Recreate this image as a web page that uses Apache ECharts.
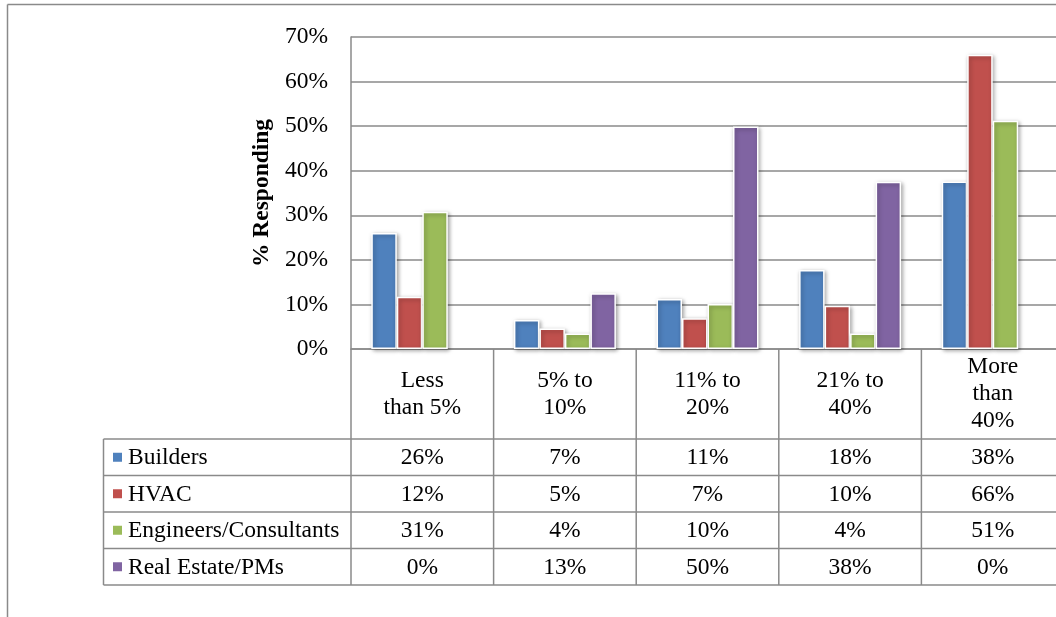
<!DOCTYPE html>
<html>
<head>
<meta charset="utf-8">
<script src="https://cdn.jsdelivr.net/npm/echarts@6/dist/echarts.min.js"></script>
<style>
  html, body { margin: 0; padding: 0; background: #fff; }
  #chart { width: 1056px; height: 617px; }
</style>
</head>
<body>
<div id="chart"></div>
<script>
var categories = ['Less\nthan 5%', '5% to\n10%', '11% to\n20%', '21% to\n40%', 'More\nthan\n40%'];
var seriesNames = ['Builders', 'HVAC', 'Engineers/Consultants', 'Real Estate/PMs'];
var builders = [26.0, 6.5, 11.2, 17.7, 37.6];
var hvac = [11.7, 4.6, 6.9, 9.7, 66.0];
var engineers = [30.8, 3.5, 10.1, 3.5, 51.2];
var realEstate = [0, 12.5, 49.9, 37.5, 0];
var yTicks = [0, 10, 20, 30, 40, 50, 60, 70];

var colors = ['#4F81BD', '#C0504D', '#9BBB59', '#8064A2'];
var font = '"Liberation Serif", "Times New Roman", serif';
var fontSize = 23.5;
var lineColor = '#8a8a8a';

var chart = echarts.init(document.getElementById('chart'));

var allData = [builders, hvac, engineers, realEstate];

var option = {
  animation: false,
  color: colors,
  // plot runs a little past the right edge, like the original cut-off chart
  grid: { left: 351, top: 37, width: 713, bottom: 268, outerBoundsMode: 'none', containLabel: false },
  xAxis: {
    type: 'category',
    data: categories,
    axisLine: { lineStyle: { color: lineColor, width: 1.5 } },
    axisTick: { show: false },
    axisLabel: {
      interval: 0,
      margin: 45,
      verticalAlign: 'middle',
      lineHeight: 27,
      fontFamily: font,
      fontSize: fontSize,
      color: '#000'
    }
  },
  yAxis: {
    type: 'value',
    min: yTicks[0],
    max: yTicks[yTicks.length - 1],
    interval: 10,
    name: '% Responding',
    nameLocation: 'middle',
    nameGap: 74,
    nameRotate: 90,
    nameTextStyle: { fontFamily: font, fontSize: fontSize, fontWeight: 'bold', color: '#000' },
    axisLine: { show: true, lineStyle: { color: lineColor, width: 1.5 } },
    axisTick: { show: false },
    splitLine: { lineStyle: { color: lineColor, width: 1.5 } },
    axisLabel: {
      margin: 23,
      fontFamily: font,
      fontSize: fontSize,
      color: '#000',
      formatter: '{value}%'
    }
  },
  series: seriesNames.map(function(name, i) {
    return {
      name: name,
      type: 'bar',
      data: allData[i].map(function(v) {
        // empty bars draw nothing (no shadow sliver)
        return v === 0 ? { value: 0, itemStyle: { opacity: 0 } } : v;
      }),
      barWidth: 25.5,
      barGap: '0%',
      itemStyle: {
        color: colors[i],
        borderColor: '#fff',
        borderWidth: 1.5,
        shadowBlur: 4,
        shadowColor: 'rgba(0,0,0,0.35)',
        shadowOffsetX: 1.5,
        shadowOffsetY: 1.5
      }
    };
  })
};

chart.setOption(option);

// data table under the plot
function drawTable() {
  var c0 = chart.convertToPixel({ xAxisIndex: 0 }, 0);
  var c1 = chart.convertToPixel({ xAxisIndex: 0 }, 1);
  var band = c1 - c0;
  var axisY = chart.convertToPixel({ yAxisIndex: 0 }, 0);
  var tableTop = 439;
  var rowH = 36.5;
  var tableLeft = 103.5;
  var tableBottom = tableTop + rowH * seriesNames.length;
  var textFont = fontSize + 'px ' + font;
  var els = [];

  // outer chart frame
  els.push({ type: 'line', shape: { x1: 7.5, y1: 4.5, x2: 1056, y2: 4.5 }, style: { stroke: lineColor, lineWidth: 1.5 } });
  els.push({ type: 'line', shape: { x1: 7.5, y1: 4.5, x2: 7.5, y2: 617 }, style: { stroke: lineColor, lineWidth: 1.5 } });

  // vertical cell borders
  for (var k = 0; k <= categories.length; k++) {
    var x = c0 - band / 2 + k * band;
    els.push({ type: 'line', shape: { x1: x, y1: axisY, x2: x, y2: tableBottom }, style: { stroke: lineColor, lineWidth: 1.5 } });
  }
  els.push({ type: 'line', shape: { x1: tableLeft, y1: tableTop, x2: tableLeft, y2: tableBottom }, style: { stroke: lineColor, lineWidth: 1.5 } });

  // horizontal row borders
  for (var r = 0; r <= seriesNames.length; r++) {
    var y = tableTop + r * rowH;
    els.push({ type: 'line', shape: { x1: tableLeft, y1: y, x2: 1060, y2: y }, style: { stroke: lineColor, lineWidth: 1.5 } });
  }

  seriesNames.forEach(function(name, i) {
    var cy = tableTop + rowH * (i + 0.5);
    els.push({ type: 'rect', shape: { x: 113, y: cy - 4.5, width: 9, height: 9 }, style: { fill: colors[i] } });
    els.push({
      type: 'text', x: 128, y: cy + 1,
      style: { text: name, font: textFont, fill: '#000', verticalAlign: 'middle', align: 'left' }
    });
    allData[i].forEach(function(v, j) {
      els.push({
        type: 'text', x: c0 + j * band, y: cy + 1,
        style: { text: Math.round(v) + '%', font: textFont, fill: '#000', verticalAlign: 'middle', align: 'center' }
      });
    });
  });

  chart.setOption({ graphic: els });
}
drawTable();
</script>
</body>
</html>
